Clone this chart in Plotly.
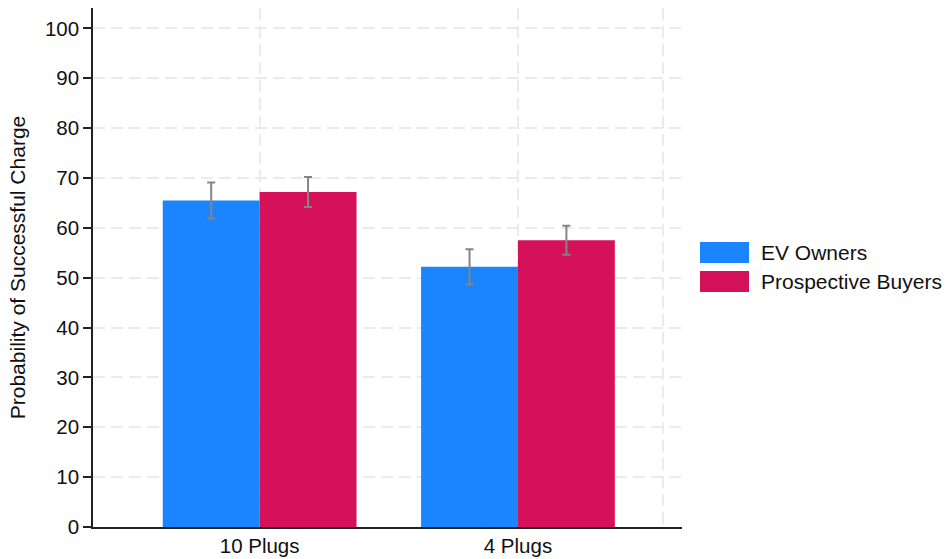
import plotly.graph_objects as go

# Survey results: mean probability of a successful charge by plug count
categories = ["10 Plugs", "4 Plugs"]
groups = ["EV Owners", "Prospective Buyers"]
ev_owners = [65.5, 52.2]
ev_owners_err = [3.6, 3.5]
prospective = [67.2, 57.5]
prospective_err = [3.0, 2.9]

colors = {"EV Owners": "#1A85FF", "Prospective Buyers": "#D41159"}
FONT = "Arial, Liberation Sans, sans-serif"

x_pos = list(range(len(categories)))

fig = go.Figure()
for name, vals, errs in [("EV Owners", ev_owners, ev_owners_err),
                         ("Prospective Buyers", prospective, prospective_err)]:
    fig.add_trace(go.Bar(
        x=x_pos, y=vals, name=name,
        marker=dict(color=colors[name], line=dict(width=0)),
        error_y=dict(type="data", array=errs, visible=True,
                     color="#858585", thickness=2, width=4),
        showlegend=False,
    ))

# legend drawn as colour swatches with labels to the right of the plot
legend_rows = [(groups[0], 242, 263), (groups[1], 271, 292)]
for name, y0, y1 in legend_rows:
    fig.add_shape(type="rect", xref="paper", yref="paper",
                  x0=(700 - 93) / 589, x1=(749 - 93) / 589,
                  y0=(527 - y1) / 519, y1=(527 - y0) / 519,
                  fillcolor=colors[name], line=dict(width=0))
    fig.add_annotation(xref="paper", yref="paper",
                       x=(759 - 93) / 589, y=(527 - (y0 + y1) / 2) / 519,
                       text=name, showarrow=False, xanchor="left", yanchor="middle",
                       font=dict(family=FONT, size=21, color="#111111"))

grid = dict(showgrid=True, gridcolor="#EBEBEB", gridwidth=2, griddash="12px,6px")

fig.update_layout(
    width=948, height=559,
    margin=dict(l=93, r=266, t=8, b=32),
    paper_bgcolor="white", plot_bgcolor="white",
    barmode="group", bargap=0.25, bargroupgap=0,
    font=dict(family=FONT, size=21, color="#111111"),
    xaxis=dict(
        range=[-0.645, 1.635], automargin=False,
        tickvals=[0, 1, 1.561], ticktext=categories + [""],
        ticks="", showline=True, linecolor="#222222", linewidth=1.5,
        zeroline=False, tickfont=dict(size=20.5), **grid,
    ),
    yaxis=dict(
        range=[0, 104.1], tickvals=list(range(0, 101, 10)), automargin=False,
        ticks="outside", ticklen=8, tickwidth=1.5, tickcolor="#222222",
        showline=True, linecolor="#222222", linewidth=1.5, zeroline=False,
        tickfont=dict(size=20.5),
        title=dict(text="Probability of Successful Charge", font=dict(size=21), standoff=14),
        **grid,
    ),
)

fig.write_html("out.html")
